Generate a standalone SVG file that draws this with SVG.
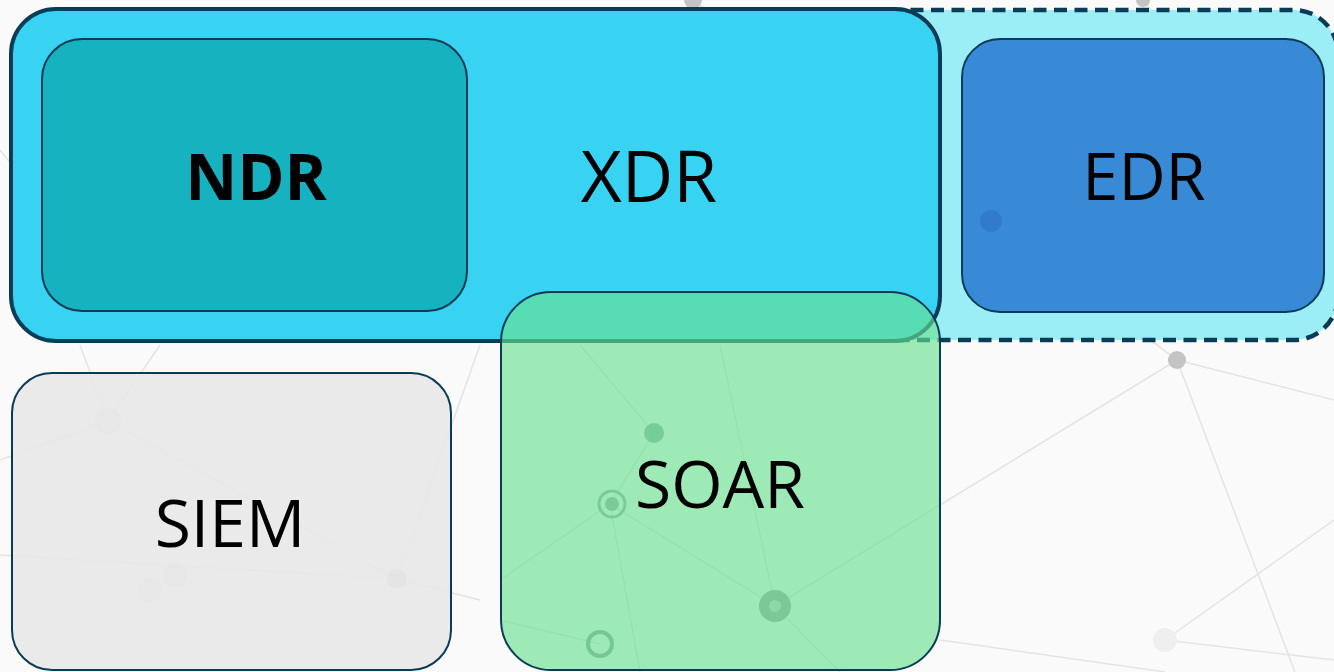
<svg xmlns="http://www.w3.org/2000/svg" width="1334" height="672" viewBox="0 0 1334 672">
  <style>
    .bgl { stroke: #e4e4e4; stroke-width: 1.5; fill: none; }
    .bgd { fill: #c4c4c4; }
    .box { stroke: #0b3c57; }
    .lbl { font-family: "Open Sans", "Noto Sans", "Liberation Sans", sans-serif; fill: #000; text-anchor: middle; }
  </style>
  <rect width="1334" height="672" fill="#fafafa"/>
  <g id="background">
    <line class="bgl" x1="693" y1="0" x2="991" y2="221"/>
    <line class="bgl" x1="693" y1="0" x2="1177" y2="360"/>
    <line class="bgl" x1="991" y1="221" x2="1177" y2="360"/>
    <line class="bgl" x1="1177" y1="360" x2="940" y2="505"/>
    <line class="bgl" x1="1177" y1="360" x2="1334" y2="400"/>
    <line class="bgl" x1="1177" y1="360" x2="1295" y2="672"/>
    <line class="bgl" x1="1143" y1="0" x2="1334" y2="240"/>
    <line class="bgl" x1="1165" y1="640" x2="1334" y2="520"/>
    <line class="bgl" x1="1165" y1="640" x2="1334" y2="660"/>
    <line class="bgl" x1="940" y1="640" x2="1165" y2="672"/>
    <line class="bgl" x1="108" y1="421" x2="397" y2="579"/>
    <line class="bgl" x1="108" y1="421" x2="0" y2="460"/>
    <line class="bgl" x1="108" y1="421" x2="80" y2="345"/>
    <line class="bgl" x1="108" y1="421" x2="160" y2="345"/>
    <line class="bgl" x1="0" y1="555" x2="397" y2="579"/>
    <line class="bgl" x1="397" y1="579" x2="480" y2="345"/>
    <line class="bgl" x1="397" y1="579" x2="480" y2="600"/>
    <line class="bgl" x1="654" y1="433" x2="610" y2="504"/>
    <line class="bgl" x1="654" y1="433" x2="580" y2="345"/>
    <line class="bgl" x1="610" y1="504" x2="775" y2="606"/>
    <line class="bgl" x1="610" y1="504" x2="500" y2="580"/>
    <line class="bgl" x1="610" y1="504" x2="640" y2="672"/>
    <line class="bgl" x1="775" y1="606" x2="940" y2="505"/>
    <line class="bgl" x1="775" y1="606" x2="720" y2="345"/>
    <line class="bgl" x1="775" y1="606" x2="840" y2="672"/>
    <line class="bgl" x1="600" y1="644" x2="500" y2="620"/>
    <line class="bgl" x1="0" y1="150" x2="40" y2="200"/>
    <circle class="bgd" cx="693" cy="0" r="9"/>
    <circle class="bgd" cx="1143" cy="0" r="7"/>
    <circle class="bgd" cx="1177" cy="360" r="9"/>
    <circle class="bgd" cx="397" cy="579" r="10"/>
    <circle cx="108" cy="421" r="12" fill="#e6e6e6" stroke="#dcdcdc" stroke-width="2"/>
    <circle cx="1165" cy="640" r="12" fill="#efefef"/>
    <circle cx="175" cy="575" r="12" fill="#e2e2e2"/>
    <circle cx="150" cy="590" r="12" fill="#e4e4e4"/>
  </g>
  <g id="edr-zone">
    <rect x="600" y="10" width="738" height="330" rx="44" fill="#9beef6" stroke="#0b3c57" stroke-width="4.5" stroke-dasharray="13 7.5"/>
  </g>
  <g id="xdr">
    <rect class="box" x="11" y="9" width="929" height="332" rx="45" fill="#38d3f2" stroke-width="4"/>
    <text class="lbl" x="649" y="202" font-size="71">XDR</text>
  </g>
  <g id="ndr">
    <rect class="box" x="42" y="39" width="425" height="272" rx="40" fill="#16b2c0" stroke-width="2"/>
    <text class="lbl" x="256" y="200" font-size="64" font-weight="bold">NDR</text>
  </g>
  <g id="edr">
    <rect class="box" x="962" y="39" width="362" height="273" rx="38" fill="#3889d6" stroke-width="2"/>
    <circle cx="991" cy="221" r="11" fill="#2f78c4" opacity="0.8"/>
    <text class="lbl" x="1144" y="200" font-size="65">EDR</text>
  </g>
  <g id="siem">
    <rect class="box" x="12" y="373" width="439" height="297" rx="40" fill="#e8e8e8" fill-opacity="0.9" stroke-width="2"/>
    <text class="lbl" x="230" y="547" font-size="66">SIEM</text>
  </g>
  <g id="soar">
    <rect class="box" x="501" y="292" width="439" height="378" rx="50" fill="#6ae190" fill-opacity="0.64" stroke-width="2"/>
    <circle cx="654" cy="433" r="10" fill="#6cc78f" opacity="0.8"/>
    <circle cx="612" cy="504" r="13" fill="none" stroke="#7ccb97" stroke-width="3"/>
    <circle cx="612" cy="504" r="7" fill="#7ccb97"/>
    <circle cx="775" cy="606" r="16" fill="#7cc897"/>
    <circle cx="775" cy="606" r="6" fill="#8cd8a6"/>
    <circle cx="600" cy="644" r="12" fill="none" stroke="#76c892" stroke-width="4"/>
    <text class="lbl" x="720" y="508" font-size="66">SOAR</text>
  </g>
  <g id="connectors"/>
</svg>
